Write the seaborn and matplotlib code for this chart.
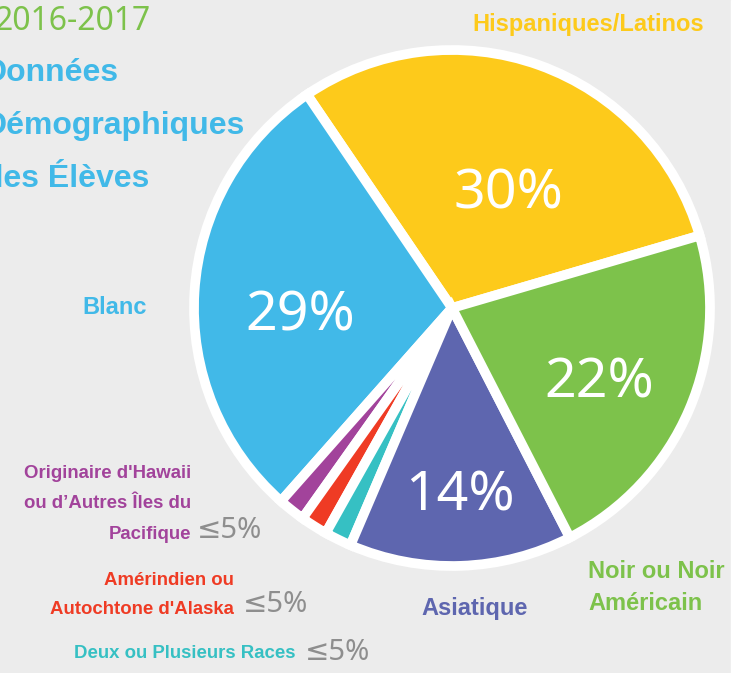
import matplotlib
matplotlib.use('Agg')
import numpy as np
import seaborn as sns
import matplotlib.pyplot as plt

# data
groups = ['Hispaniques/Latinos', 'Blanc', "Originaire d'Hawaii", 'Amérindien', 'Deux ou Plusieurs Races',
          'Asiatique', 'Noir ou Noir Américain']
shares = [30, 29, 1.7, 1.7, 1.7, 14, 22]
pct_labels = ['30%', '29%', '', '', '', '14%', '22%']
colors = ['#FDCA1B', '#41B9E8', '#A2439B', '#EF3B24', '#36C0C3', '#5E66AF', '#7DC24B']

sns.set_theme(style='white')
plt.rcParams['font.family'] = ['Noto Sans', 'DejaVu Sans']
bg = '#ECECEC'
bold_font = ['Liberation Sans', 'DejaVu Sans']

fig = plt.figure(figsize=(7.41, 6.73), dpi=100, facecolor=bg)
# thin white strip on the right edge
fig.patches.append(plt.Rectangle((731 / 741, 0), 10 / 741, 1, transform=fig.transFigure,
                                 color='white', zorder=0))
ax = fig.add_axes([0, 0, 731 / 741, 1])
ax.set_facecolor(bg)

cx, cy, r = 452, 673 - 308, 258
wedges, _ = ax.pie(shares, colors=colors, startangle=16.3, counterclock=True,
                   center=(cx, cy), radius=r, frame=True,
                   wedgeprops=dict(edgecolor='white', linewidth=7))
ax.set_xlim(0, 731)
ax.set_ylim(0, 673)
ax.set_aspect('equal')
ax.axis('off')

# percentage labels inside the big wedges (offsets in units of radius)
pct_pos = [(0.22, 0.44), (-0.59, -0.03), None, None, None, (0.03, -0.73), (0.57, -0.29)]
for lab, pos in zip(pct_labels, pct_pos):
    if not lab:
        continue
    ax.text(cx + pos[0] * r, cy + pos[1] * r, lab, color='white',
            fontsize=40, ha='center', va='center')

# category labels
def px(x, y):
    return x / 741, 1 - y / 673

lab_kw = dict(fontsize=17, fontweight='bold', family=bold_font)
fig.text(*px(588, 25), 'Hispaniques/Latinos', color=colors[0], ha='center', va='center', **lab_kw)
fig.text(*px(115, 308), 'Blanc', color=colors[1], ha='center', va='center', **lab_kw)
fig.text(*px(588, 588), 'Noir ou Noir\nAméricain', color=colors[6], ha='left', va='center',
         linespacing=1.5, **lab_kw)
fig.text(*px(475, 608), 'Asiatique', color=colors[5], ha='center', va='center', **lab_kw)

small_kw = dict(fontsize=13.4, fontweight='bold', family=bold_font, ha='right', va='center')
fig.text(*px(191, 504), "Originaire d'Hawaii\nou d’Autres Îles du\nPacifique", color=colors[2],
         linespacing=2.05, **small_kw)
fig.text(*px(234, 595), 'Amérindien ou\nAutochtone d\'Alaska', color=colors[3],
         linespacing=1.85, **small_kw)
fig.text(*px(296, 654), 'Deux ou Plusieurs Races', color=colors[4], **small_kw)
for x, y in [(230, 530), (275, 604), (337, 652)]:
    fig.text(*px(x, y), '≤5%', color='#8E8E8E', fontsize=21, ha='center', va='center')

# title
fig.text(*px(-6, 21), '2016-2017', color='#7DC24B', fontsize=23, ha='left', va='center')
fig.text(*px(-16, 126), 'Données\nDémographiques\ndes Élèves', color='#41B9E8', fontsize=23,
         fontweight='bold', family=bold_font, ha='left', va='center', linespacing=2.0)

fig.savefig('out.png', dpi=100, facecolor=bg)
